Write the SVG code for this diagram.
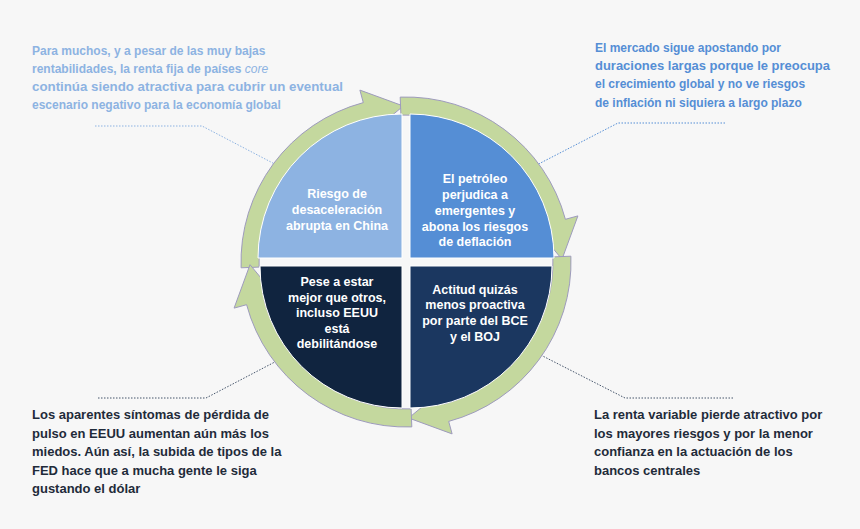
<svg xmlns="http://www.w3.org/2000/svg" width="860" height="529" viewBox="0 0 860 529">
<defs>
<style>
.q{stroke:#ffffff;stroke-width:1}
.qt{font-family:"Liberation Sans",Arial,sans-serif;font-weight:bold;font-size:12.5px;fill:#ffffff;text-anchor:middle}
.ring{fill:#c4d89e;stroke:#9e9bbd;stroke-width:1}
.con{fill:none;stroke-width:1;stroke-dasharray:1.5 1.5}
.a1{font-family:"Liberation Sans",Arial,sans-serif;font-weight:bold;font-size:12px;fill:#8db3e2}
.a2{font-family:"Liberation Sans",Arial,sans-serif;font-weight:bold;font-size:12px;fill:#558ed5}
.a3{font-family:"Liberation Sans Narrow","Liberation Sans",Arial,sans-serif;font-weight:bold;font-size:13px;fill:#1f2b3a}
</style>
<path id="arr" d="M241.1,267.8 A165,165 0 0 1 363.3,102.6 L359.9,90.1 L403.3,106 L371.3,132.6 L368,120 A147,147 0 0 0 259.1,267.1 Z"/>
</defs>
<rect width="860" height="529" fill="#f7f7f7"/>
<g id="connectors">
<polyline class="con" stroke="#8db3e2" points="95,126 202,126 290,172"/>
<polyline class="con" stroke="#558ed5" points="725,123 618,123 525,171"/>
<polyline class="con" stroke="#44546a" points="98,398 206,398 292,353"/>
<polyline class="con" stroke="#44546a" points="733,398 625,398 525,347"/>
</g>
<g id="ring">
<use href="#arr" class="ring"/>
<use href="#arr" class="ring" transform="rotate(90 406 262)"/>
<use href="#arr" class="ring" transform="rotate(180 406 262)"/>
<use href="#arr" class="ring" transform="rotate(270 406 262)"/>
</g>
<g id="n-tl">
<path class="q" fill="#8db3e2" d="M402,258 L258,258 A144,144 0 0 1 402,114 Z"/>
<text class="qt" x="337" y="198">Riesgo de</text>
<text class="qt" x="337" y="214">desaceleración</text>
<text class="qt" x="337" y="230">abrupta en China</text>
</g>
<g id="n-tr">
<path class="q" fill="#558ed5" d="M410,258 L410,114 A144,144 0 0 1 554,258 Z"/>
<text class="qt" x="475" y="183">El petróleo</text>
<text class="qt" x="475" y="199">perjudica a</text>
<text class="qt" x="475" y="215">emergentes y</text>
<text class="qt" x="475" y="231">abona los riesgos</text>
<text class="qt" x="475" y="246">de deflación</text>
</g>
<g id="n-br">
<path class="q" fill="#1b3760" d="M410,266 L552,266 A142,142 0 0 1 410,408 Z"/>
<text class="qt" x="475" y="294">Actitud quizás</text>
<text class="qt" x="475" y="309">menos proactiva</text>
<text class="qt" x="475" y="325">por parte del BCE</text>
<text class="qt" x="475" y="341">y el BOJ</text>
</g>
<g id="n-bl">
<path class="q" fill="#10243f" d="M402,266 L402,408 A142,142 0 0 1 260,266 Z"/>
<text class="qt" x="337" y="286">Pese a estar</text>
<text class="qt" x="337" y="302">mejor que otros,</text>
<text class="qt" x="337" y="317">incluso EEUU</text>
<text class="qt" x="337" y="333">está</text>
<text class="qt" x="337" y="348">debilitándose</text>
</g>
<g id="note-tl">
<text class="a1" x="32" y="55">Para muchos,  y a pesar de las muy bajas</text>
<text class="a1" x="32" y="73">rentabilidades, la renta fija de países <tspan font-style="italic" font-weight="normal">core</tspan></text>
<text class="a1" x="32" y="91" textLength="311" lengthAdjust="spacingAndGlyphs">continúa siendo atractiva para cubrir un eventual</text>
<text class="a1" x="32" y="109">escenario negativo para la economía global</text>
</g>
<g id="note-tr">
<text class="a2" x="595" y="52">El mercado sigue apostando por</text>
<text class="a2" x="595" y="70" textLength="235" lengthAdjust="spacingAndGlyphs">duraciones largas porque le preocupa</text>
<text class="a2" x="595" y="88">el crecimiento global y no ve riesgos</text>
<text class="a2" x="595" y="107">de inflación ni siquiera a largo plazo</text>
</g>
<g id="note-bl">
<text class="a3" x="32" y="419">Los aparentes síntomas de pérdida de</text>
<text class="a3" x="32" y="438">pulso en EEUU aumentan aún más los</text>
<text class="a3" x="32" y="456">miedos. Aún así, la subida de tipos de la</text>
<text class="a3" x="32" y="475">FED hace que a mucha gente le siga</text>
<text class="a3" x="32" y="493">gustando el dólar</text>
</g>
<g id="note-br">
<text class="a3" x="594" y="419">La renta variable pierde atractivo por</text>
<text class="a3" x="594" y="438">los mayores riesgos y por la menor</text>
<text class="a3" x="594" y="456">confianza en la actuación de los</text>
<text class="a3" x="594" y="475">bancos centrales</text>
</g>
</svg>
